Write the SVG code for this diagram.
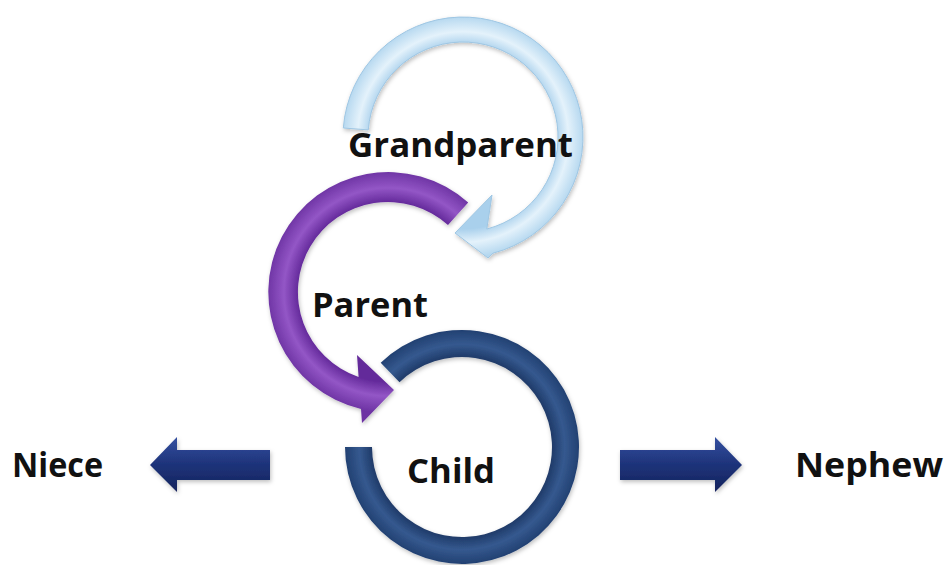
<svg xmlns="http://www.w3.org/2000/svg" width="945" height="565" viewBox="0 0 945 565">
  <defs>
    <filter id="sh" x="-20%" y="-20%" width="140%" height="140%">
      <feDropShadow dx="1" dy="2" stdDeviation="2" flood-color="#000" flood-opacity="0.25"/>
    </filter>
    <radialGradient id="gLight" gradientUnits="userSpaceOnUse" cx="463" cy="137" r="121">
      <stop offset="0.76" stop-color="#a9d0ec"/>
      <stop offset="0.87" stop-color="#e4f2fb"/>
      <stop offset="1" stop-color="#b4d7ef"/>
    </radialGradient>
    <radialGradient id="gPurple" gradientUnits="userSpaceOnUse" cx="388" cy="292" r="121">
      <stop offset="0.74" stop-color="#63299a"/>
      <stop offset="0.86" stop-color="#9356c6"/>
      <stop offset="1" stop-color="#6d33a3"/>
    </radialGradient>
    <radialGradient id="gChild" gradientUnits="userSpaceOnUse" cx="462" cy="447" r="118">
      <stop offset="0.76" stop-color="#1f3a68"/>
      <stop offset="0.87" stop-color="#35598f"/>
      <stop offset="1" stop-color="#213f70"/>
    </radialGradient>
    <linearGradient id="gNavy" x1="0" y1="0" x2="0" y2="1">
      <stop offset="0" stop-color="#3450a0"/>
      <stop offset="0.5" stop-color="#1e337a"/>
      <stop offset="1" stop-color="#14235c"/>
    </linearGradient>
  </defs>
  <style>
    .lbl { font-family: "Open Sans", "Noto Sans", "Liberation Sans", sans-serif; font-weight: bold; font-size: 34px; fill: #111; }
    .light { fill: url(#gLight); stroke: #9ec6e3; stroke-width: 1; }
    .purple { fill: url(#gPurple); }
    .child { fill: url(#gChild); }
    .navy { fill: url(#gNavy); }
  </style>

  <g id="grandparent">
    <path class="light" filter="url(#sh)" d="M 343.3,128 A 120 120 0 1 1 493,253.2 L 488,258 L 455,233 L 492,195 L 486.8,229 A 95 95 0 1 0 368.3,129.9 Z"/>
  </g>

  <g id="parent">
    <path class="purple" filter="url(#sh)" d="M 468.2,202.5 A 120 120 0 1 0 361,408.9 L 362,423 L 394,390 L 357,355 L 358.6,377.1 A 90 90 0 1 1 448,225 Z"/>
  </g>

  <g id="child">
    <path class="child" filter="url(#sh)" d="M 345,447 A 117 117 0 1 0 380.7,362.8 L 399.5,382.3 A 90 90 0 1 1 372,447 Z"/>
  </g>

  <g id="connectors">
    <polygon class="navy" filter="url(#sh)" points="150,465 177,437 177,450 270,450 270,480 177,480 177,492"/>
    <polygon class="navy" filter="url(#sh)" points="742,465 715,437 715,450 620,450 620,480 715,480 715,492"/>
  </g>

  <g id="labels">
    <text id="t-grandparent" class="lbl" x="348" y="157" textLength="225" lengthAdjust="spacingAndGlyphs">Grandparent</text>
    <text id="t-parent" class="lbl" x="312" y="317" textLength="116" lengthAdjust="spacingAndGlyphs">Parent</text>
    <text id="t-child" class="lbl" x="407" y="483" textLength="88" lengthAdjust="spacingAndGlyphs">Child</text>
    <text id="t-niece" class="lbl" x="12" y="477" textLength="91" lengthAdjust="spacingAndGlyphs">Niece</text>
    <text id="t-nephew" class="lbl" x="795" y="477" textLength="148" lengthAdjust="spacingAndGlyphs">Nephew</text>
  </g>
</svg>
